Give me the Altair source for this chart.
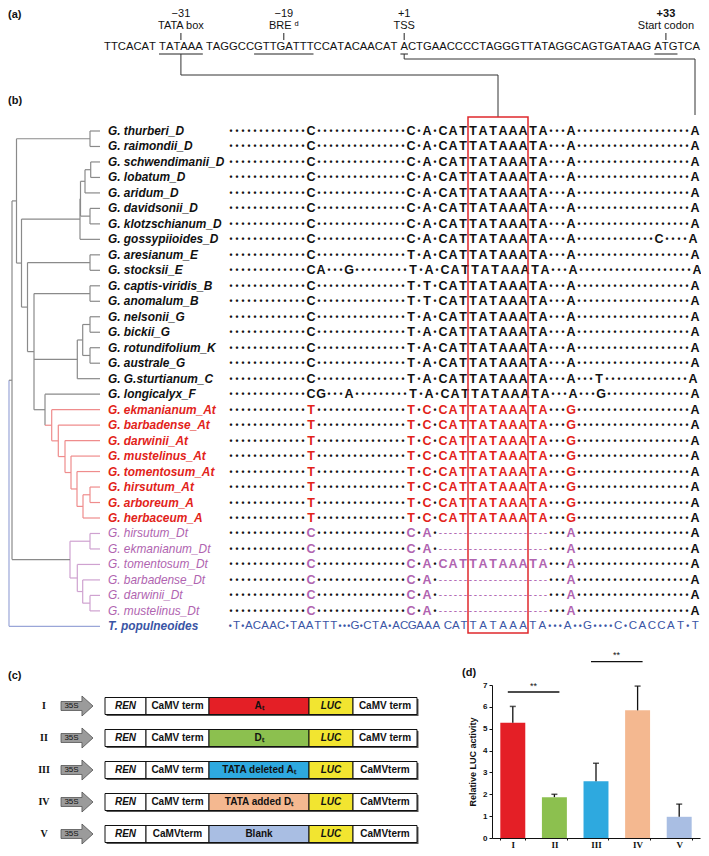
import altair as alt
import pandas as pd

# ======================= DATA =======================
# ---- panel (a): promoter sequence ----
SEQ_A = "TTCACAT TATAAA TAGGCCGTTGATTTCCATACAACAT ACTGAACCCCTAGGGTTATAGGCAGTGATAAG ATGTCA"
FEAT_MOTIF = ["TATAAA", "GTTGATTT", " A", " ATG"]
FEAT_NUM = ["\u221231", "\u221219", "+1", "+33"]
FEAT_NAME = ["TATA box", "BRE \u1d48", "TSS", "Start codon"]
FEAT_WEIGHT = ["normal", "normal", "normal", "bold"]

# ---- panel (b): species, groups, alignment ----
SPECIES = ["G. thurberi_D", "G. raimondii_D", "G. schwendimanii_D", "G. lobatum_D",
           "G. aridum_D", "G. davidsonii_D", "G. klotzschianum_D", "G. gossypiioides_D",
           "G. aresianum_E", "G. stocksii_E", "G. captis-viridis_B", "G. anomalum_B",
           "G. nelsonii_G", "G. bickii_G", "G. rotundifolium_K", "G. australe_G",
           "G. G.sturtianum_C", "G. longicalyx_F",
           "G. ekmanianum_At", "G. barbadense_At", "G. darwinii_At", "G. mustelinus_At",
           "G. tomentosum_At", "G. hirsutum_At", "G. arboreum_A", "G. herbaceum_A",
           "G. hirsutum_Dt", "G. ekmanianum_Dt", "G. tomentosum_Dt", "G. barbadense_Dt",
           "G. darwinii_Dt", "G. mustelinus_Dt", "T. populneoides"]
GROUP = ["k"] * 18 + ["r"] * 8 + ["p"] * 6 + ["b"]

ROW_D = "." * 13 + "C" + "." * 15 + "C.A.CAT" + "TATAAA" + "TA...A" + "." * 19 + "A"
ROW_GOS = "." * 13 + "C" + "." * 15 + "C.A.CAT" + "TATAAA" + "TA...A" + "." * 13 + "C" + "." * 4 + "A"
ROW_E = "." * 13 + "C" + "." * 15 + "T.A.CAT" + "TATAAA" + "TA...A" + "." * 19 + "A"
ROW_STO = "." * 13 + "CA...G" + "." * 9 + "T.A.CAT" + "TATAAA" + "TA...A" + "." * 19 + "A"
ROW_B = "." * 13 + "C" + "." * 15 + "T.T.CAT" + "TATAAA" + "TA...A" + "." * 19 + "A"
ROW_STU = "." * 13 + "C" + "." * 15 + "T.A.CAT" + "TATAAA" + "TA...A" + "...T" + "." * 14 + "A"
ROW_LON = "." * 13 + "CG...A" + "." * 9 + "T.A.CAT" + "TATAAA" + "TA...A" + "...G" + "." * 14 + "A"
ROW_AT = "." * 13 + "T" + "." * 15 + "T.C.CAT" + "TATAAA" + "TA...G" + "." * 19 + "A"
ROW_DT = "." * 13 + "C" + "." * 15 + "C.A." + "-" * 11 + "...A" + "." * 19 + "A"
ROW_POP = ".T.ACAAC.TAATTT...G.CTA.ACGAAA CAT" + "TATAAA" + "TA...A..G....C.CACCAT.T"
ALIGN = ([ROW_D] * 7 + [ROW_GOS, ROW_E, ROW_STO, ROW_B, ROW_B] + [ROW_E] * 4 +
         [ROW_STU, ROW_LON] + [ROW_AT] * 8 + [ROW_DT, ROW_DT, ROW_D, ROW_DT, ROW_DT, ROW_DT] +
         [ROW_POP])

# tree: (node name, branch depth, children); leaves are row indices
TREE = ("root", 9, [
    ("ing", 12, [
        ("top", 16.5, [
            ("p01", 90, [0, 1]),
            ("n2", 21.5, [
                ("x", 80, [("sadk", 80.5, [("sa", 85, [("s", 90.7, [2, 3]), 4]),
                                           ("dk", 90, [5, 6])]), 7]),
                ("n3", 27.5, [
                    ("e", 90, [8, 9]),
                    ("n4", 34, [
                        ("b", 90, [10, 11]),
                        ("g", 77.3, [("gk", 82.7, [("p12", 90, [12, 13]), ("p14", 90, [14, 15])]), 16]),
                        ("fa", 45, [17, ("a1", 51.7, [18, ("a2", 58.3, [19, ("a3", 65, [20, ("a4", 71, [21,
                            ("a5", 77, [22, ("a6", 83, [("p23", 90, [23, 24]), 25])])])])])])]),
                    ]),
                ]),
            ]),
        ]),
        ("dt", 70, [("p26", 90, [26, 27]),
                    ("dt2", 77.3, [28, ("dt3", 82.7, [29, ("p30", 90, [30, 31])])])]),
    ]),
    32,
])
RED_NODES = ["a1", "a2", "a3", "a4", "a5", "a6", "p23"]
PURPLE_NODES = ["dt", "p26", "dt2", "dt3", "p30"]

# ---- panel (c): constructs ----
CON_ROMAN = ["I", "II", "III", "IV", "V"]
CON_INSERT = ["A\u209c", "D\u209c", "TATA deleted A\u209c", "TATA added D\u209c", "Blank"]
CON_COLOR = ["#e41f26", "#8cc04f", "#2ea9df", "#f4b890", "#a9bee3"]
CON_TERM1 = ["CaMV term", "CaMV term", "CaMV term", "CaMV term", "CaMVterm"]
CON_TERM2 = ["CaMV term", "CaMV term", "CaMVterm", "CaMVterm", "CaMVterm"]

# ---- panel (d): relative LUC activity ----
BAR_LABELS = CON_ROMAN
BAR_VALUES = [5.27, 1.87, 2.60, 5.84, 0.97]
BAR_ERR_TOP = [6.02, 2.00, 3.42, 6.95, 1.55]
SIG_FROM = ["I", "III"]
SIG_TO = ["II", "IV"]
SIG_LEVEL = [6.68, 8.07]
SIG_TEXT = ["**", "**"]

# ======================= LAYOUT =======================
W, H = 693, 840
SANS = "Liberation Sans, Arial, Helvetica, sans-serif"
SERIF = "Liberation Serif, Times New Roman, serif"
XS = alt.Scale(domain=[8, 8 + W], range=[0, W], nice=False, zero=False)
YS = alt.Scale(domain=[8, 8 + H], range=[0, H], nice=False, zero=False)
COL = {"k": "#111111", "r": "#e2231a", "p": "#b064b0", "b": "#3a55a5"}
TCOL = {"k": "#8a8a8a", "r": "#ef8c8c", "p": "#cfa2d0", "b": "#9aa6d8"}


def X(f="x"):
    return alt.X(f, type="quantitative", scale=XS, axis=None)


def Y(f="y"):
    return alt.Y(f, type="quantitative", scale=YS, axis=None)


def text_layer(rows, **kw):
    return alt.Chart(pd.DataFrame(rows)).mark_text(**kw).encode(
        x=X(), y=Y(), text="t:N", color=alt.Color("c:N", scale=None))


def rule_layer(rows, **kw):
    return alt.Chart(pd.DataFrame(rows)).mark_rule(**kw).encode(
        x=X(), x2="x2:Q", y=Y(), y2="y2:Q", color=alt.Color("c:N", scale=None))


layers = []

# panel letters
layers.append(text_layer([dict(x=8, y=15, t="(a)", c="#111"), dict(x=8, y=101, t="(b)", c="#111"),
                          dict(x=8, y=676, t="(c)", c="#111"), dict(x=462, y=673, t="(d)", c="#111")],
                         align="left", baseline="middle", font=SANS, fontSize=11, fontWeight="bold"))

# ---- panel (a) ----
AW = {"A": 0.667, "C": 0.722, "G": 0.778, "T": 0.611, " ": 0.278}
SEQ_X0, SEQ_X1, SEQ_Y = 104, 700, 47
fs_a = (SEQ_X1 - SEQ_X0) / sum(AW[c] for c in SEQ_A)
edges, seq_rows, cur = [], [], SEQ_X0
for ch in SEQ_A:
    w = AW[ch] * fs_a
    edges.append((cur, cur + w))
    if ch != " ":
        seq_rows.append(dict(x=cur + w / 2, y=SEQ_Y, t=ch, c="#111"))
    cur += w
layers.append(text_layer(seq_rows, align="center", baseline="middle", font=SANS, fontSize=fs_a))

feat_c, under, ticks, nums, names = [], [], [], [], []
for m, n, nm, wt in zip(FEAT_MOTIF, FEAT_NUM, FEAT_NAME, FEAT_WEIGHT):
    i = SEQ_A.index(m) + (1 if m.startswith(" ") else 0)
    L = len(m.strip())
    x0, x1 = edges[i][0], edges[i + L - 1][1]
    xc = (x0 + x1) / 2
    feat_c.append(xc)
    under.append(dict(x=x0, x2=x1, y=SEQ_Y + 7, y2=SEQ_Y + 7, c="#222"))
    ticks.append(dict(x=xc, x2=xc, y=33, y2=40, c="#222"))
    names.append(dict(x=xc, y=26, t=nm, c="#111"))
    nums.append(dict(x=xc, y=14, t=n, c="#111", w=wt))
layers.append(rule_layer(under + ticks, strokeWidth=1))
layers.append(text_layer(names, align="center", baseline="middle", font=SANS, fontSize=11))
layers.append(text_layer([r for r in nums if r["w"] == "normal"], align="center", baseline="middle",
                         font=SANS, fontSize=11))
layers.append(text_layer([r for r in nums if r["w"] == "bold"], align="center", baseline="middle",
                         font=SANS, fontSize=11, fontWeight="bold"))

# ---- panel (b): alignment ----
ROW_Y0, ROW_DY = 131, 15.48
LA, LB = 10.0, 6.0
ALN_X0 = 228.0


def aln_positions(seq):
    out, c = [], ALN_X0
    for ch in seq:
        w = LB if ch == "." else LA
        out.append(c + w / 2)
        c += w
    return out


ref = aln_positions(ROW_D)
BOX_L = ref[ROW_D.index("TATAAA")] - LA / 2
BOX_R = BOX_L + 6 * LA
LAST_X = ref[-1]


def pop_positions(seq):
    i = seq.index("TATAAA")
    pre, post = seq[:i], seq[i + 6:]

    def fit(s, a, b):
        ws = [0.55 if c == "." else (0.45 if c == " " else 1.0) for c in s]
        k = (b - a) / sum(ws)
        out, c = [], a
        for w in ws:
            out.append(c + w * k / 2)
            c += w * k
        return out
    return fit(pre, ALN_X0, BOX_L) + [BOX_L + LA * (j + 0.5) for j in range(6)] + fit(post, BOX_R, 700)


ROW_Y = [ROW_Y0 + i * ROW_DY for i in range(len(SPECIES))]
letters, bullets, dashes, pop_letters = [], [], [], []
for i, seq in enumerate(ALIGN):
    g = GROUP[i]
    y = ROW_Y[i]
    xs = pop_positions(seq) if g == "b" else aln_positions(seq)
    for j, (ch, x) in enumerate(zip(seq, xs)):
        if ch == " ":
            continue
        if ch == ".":
            bullets.append(dict(x=x, y=y, t="\u2022", c=COL["b"] if g == "b" else "#111"))
        elif ch == "-":
            for d in (-2.5, 2.5):
                dashes.append(dict(x=x + d, y=y, t="-", c=COL[g]))
        else:
            c = COL[g]
            if j == len(seq) - 1 and g in "rp":
                c = "#111"
            (pop_letters if g == "b" else letters).append(dict(x=x, y=y, t=ch, c=c))
layers.append(text_layer(letters, align="center", baseline="middle", font=SANS, fontSize=12.5, fontWeight="bold"))
layers.append(text_layer(pop_letters, align="center", baseline="middle", font=SANS, fontSize=11.5))
layers.append(text_layer(bullets, align="center", baseline="middle", font=SANS, fontSize=8.5, fontWeight="bold"))
layers.append(text_layer(dashes, align="center", baseline="middle", font=SANS, fontSize=10))

# species labels
lab_bold = [dict(x=108, y=ROW_Y[i], t=s, c=COL[GROUP[i]]) for i, s in enumerate(SPECIES) if GROUP[i] != "p"]
lab_norm = [dict(x=108, y=ROW_Y[i], t=s, c=COL[GROUP[i]]) for i, s in enumerate(SPECIES) if GROUP[i] == "p"]
layers.append(text_layer(lab_bold, align="left", baseline="middle", font=SANS, fontSize=11.9,
                         fontWeight="bold", fontStyle="italic"))
layers.append(text_layer(lab_norm, align="left", baseline="middle", font=SANS, fontSize=11.9,
                         fontStyle="italic"))

# tree
LEAF_X = 100
segs = []


def node_col(name):
    if name in RED_NODES:
        return TCOL["r"]
    if name in PURPLE_NODES:
        return TCOL["p"]
    if name == "root":
        return TCOL["b"]
    return TCOL["k"]


def walk(node):
    if isinstance(node, int):
        return ROW_Y[node], LEAF_X, TCOL[GROUP[node]]
    name, x, kids = node
    info = [walk(k) for k in kids]
    ys = [v[0] for v in info]
    vc = node_col(name)
    segs.append(dict(x=x, x2=x, y=ys[0], y2=ys[-1], c=vc))
    for k, (cy, cx, cc) in zip(kids, info):
        hc = TCOL["k"] if (not isinstance(k, int) and k[0] == "dt") else cc
        segs.append(dict(x=x, x2=cx, y=cy, y2=cy, c=hc))
    return (ys[0] + ys[-1]) / 2, x, vc


walk(TREE)
layers.append(rule_layer(segs, strokeWidth=1.2))

# connectors (a) -> (b)
BOX_TOP, BOX_BOT = 117, 633
conn = [
    dict(x=feat_c[0], x2=feat_c[0], y=SEQ_Y + 7, y2=75, c="#333"),
    dict(x=feat_c[0], x2=(BOX_L + BOX_R) / 2, y=75, y2=75, c="#333"),
    dict(x=(BOX_L + BOX_R) / 2, x2=(BOX_L + BOX_R) / 2, y=75, y2=BOX_TOP, c="#333"),
    dict(x=feat_c[2], x2=feat_c[2], y=SEQ_Y + 7, y2=59, c="#333"),
    dict(x=feat_c[2], x2=LAST_X, y=59, y2=59, c="#333"),
    dict(x=LAST_X, x2=LAST_X, y=59, y2=BOX_TOP - 2, c="#333"),
]
layers.append(rule_layer(conn, strokeWidth=1))

# red TATA box
layers.append(alt.Chart(pd.DataFrame([dict(x=BOX_L, x2=BOX_R, y=BOX_TOP, y2=BOX_BOT)]))
              .mark_rect(filled=False, color="#e0282c", strokeWidth=1.5)
              .encode(x=X(), x2="x2:Q", y=Y(), y2="y2:Q"))

# ---- panel (c): constructs ----
CY0, CDY, CHH = 706, 32, 8.5
SEG_B = [105, 146, 209, 309, 353, 417]
shadow, boxes, t_bold, t_ital, arrows, lab35, roman = [], [], [], [], [], [], []
for r in range(len(CON_ROMAN)):
    y = CY0 + r * CDY
    shadow.append(dict(x=SEG_B[0] + 1.5, x2=SEG_B[-1] + 1.5, y=y - CHH + 1.5, y2=y + CHH + 1.5, c="#555"))
    names_r = ["REN", CON_TERM1[r], CON_INSERT[r], "LUC", CON_TERM2[r]]
    fills = ["#ffffff", "#ffffff", CON_COLOR[r], "#f2e530", "#ffffff"]
    for s in range(5):
        boxes.append(dict(x=SEG_B[s], x2=SEG_B[s + 1], y=y - CHH, y2=y + CHH, c=fills[s]))
        row = dict(x=(SEG_B[s] + SEG_B[s + 1]) / 2, y=y, t=names_r[s], c="#111")
        (t_ital if s in (0, 3) else t_bold).append(row)
    arrows.append(dict(x=77, y=y, t="", c="#9b9b9b"))
    lab35.append(dict(x=71.5, y=y, t="35S", c="#111"))
    roman.append(dict(x=44, y=y, t=CON_ROMAN[r], c="#111"))

layers.append(alt.Chart(pd.DataFrame(shadow)).mark_rect().encode(
    x=X(), x2="x2:Q", y=Y(), y2="y2:Q", color=alt.Color("c:N", scale=None)))
layers.append(alt.Chart(pd.DataFrame(boxes)).mark_rect(stroke="#111", strokeWidth=1).encode(
    x=X(), x2="x2:Q", y=Y(), y2="y2:Q", color=alt.Color("c:N", scale=None)))
layers.append(text_layer(t_bold, align="center", baseline="middle", font=SANS, fontSize=10, fontWeight="bold"))
layers.append(text_layer(t_ital, align="center", baseline="middle", font=SANS, fontSize=10,
                         fontWeight="bold", fontStyle="italic"))
ARROW = "M-1,-0.28L0.31,-0.28L0.31,-0.625L1,0L0.31,0.625L0.31,0.28L-1,0.28Z"
layers.append(alt.Chart(pd.DataFrame(arrows)).mark_point(
    shape=ARROW, size=1024, filled=True, stroke="#505050", strokeWidth=0.8, opacity=1).encode(
    x=X(), y=Y(), color=alt.Color("c:N", scale=None)))
layers.append(text_layer(lab35, align="center", baseline="middle", font=SANS, fontSize=8))
layers.append(text_layer(roman, align="center", baseline="middle", font=SERIF, fontSize=10, fontWeight="bold"))

# ---- panel (d): bar chart with its own scales ----
bx = alt.Scale(domain=BAR_LABELS, range=[484, 692], paddingInner=0.4, paddingOuter=0.2)
by = alt.Scale(domain=[0, 7], range=[830, 677], nice=False, zero=True)
bars_df = pd.DataFrame(dict(k=BAR_LABELS, v=BAR_VALUES, e=BAR_ERR_TOP, c=CON_COLOR))
bars = alt.Chart(bars_df).mark_bar().encode(
    x=alt.X("k:N", scale=bx, sort=BAR_LABELS,
            axis=alt.Axis(orient="bottom", offset=-10, title=None, labelAngle=0, labelFont=SERIF,
                          labelFontSize=9, labelFontWeight="bold", labelColor="#111", tickBand="extent",
                          tickSize=2, domainColor="#111", tickColor="#111", labelPadding=7,
                          labelBaseline="alphabetic")),
    y=alt.Y("v:Q", scale=by,
            axis=alt.Axis(orient="left", offset=-484, values=[0, 1, 2, 3, 4, 5, 6, 7], format="d",
                          grid=False, labelFont=SANS, labelFontSize=8, labelFontWeight="bold",
                          labelColor="#111", tickSize=3, tickColor="#111", domainColor="#111",
                          labelPadding=2, title="Relative LUC activity", titleFont=SANS,
                          titleFontSize=9, titleFontWeight="bold", titleColor="#111", titlePadding=5)),
    color=alt.Color("c:N", scale=None))
err = alt.Chart(bars_df).mark_rule(color="#111", strokeWidth=1.3).encode(
    x=alt.X("k:N", scale=bx, sort=BAR_LABELS, axis=None),
    y=alt.Y("v:Q", scale=by, axis=None), y2="e:Q")
caps = alt.Chart(bars_df).mark_tick(color="#111", thickness=1.5, size=6, orient="horizontal").encode(
    x=alt.X("k:N", scale=bx, sort=BAR_LABELS, axis=None),
    y=alt.Y("e:Q", scale=by, axis=None))
sig_df = pd.DataFrame(dict(a=SIG_FROM, b=SIG_TO, v=SIG_LEVEL, t=SIG_TEXT))
sig = alt.Chart(sig_df).mark_rule(color="#111", strokeWidth=1.3).encode(
    x=alt.X("a:N", scale=bx, axis=None, bandPosition=0.3),
    x2=alt.X2("b:N", bandPosition=0.7),
    y=alt.Y("v:Q", scale=by, axis=None))
stars_df = pd.DataFrame(dict(m=["II", "IV"], v=[lvl + 0.28 for lvl in SIG_LEVEL], t=SIG_TEXT))
stars = alt.Chart(stars_df).mark_text(font=SANS, fontSize=9, color="#111", dx=-21).encode(
    x=alt.X("m:N", scale=bx, axis=None),
    y=alt.Y("v:Q", scale=by, axis=None), text="t:N")
layers += [bars, err, caps, sig, stars]

chart = (alt.layer(*layers)
         .resolve_scale(x="independent", y="independent", color="independent")
         .properties(width=W, height=H, padding=0, autosize=alt.AutoSizeParams(type="none"))
         .configure_view(stroke=None))
chart.save("out.html", embed_options={"renderer": "svg", "actions": False})
